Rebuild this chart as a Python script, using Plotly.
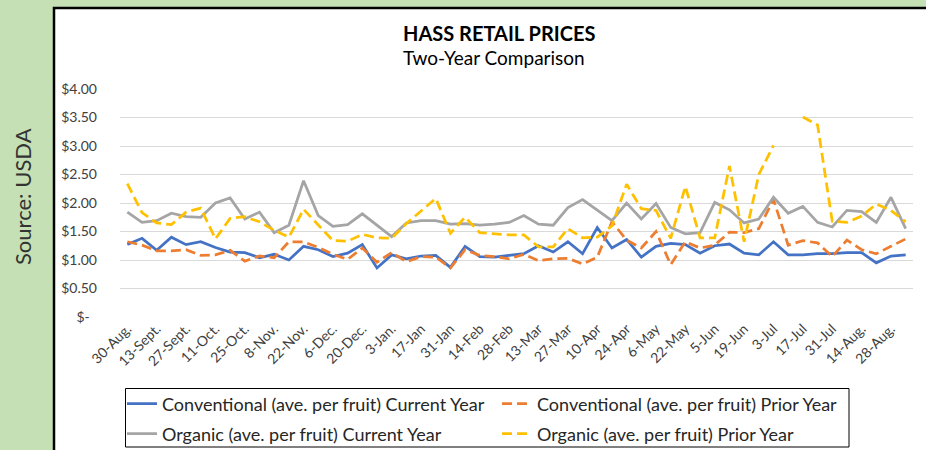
import plotly.graph_objects as go

weeks = ["30-Aug.", "6-Sept.", "13-Sept.", "20-Sept.", "27-Sept.", "4-Oct.", "11-Oct.", "18-Oct.",
         "25-Oct.", "1-Nov.", "8-Nov.", "15-Nov.", "22-Nov.", "29-Nov.", "6-Dec.", "13-Dec.",
         "20-Dec.", "27-Dec.", "3-Jan.", "10-Jan", "17-Jan", "24-Jan", "31-Jan", "7-Feb",
         "14-Feb", "21-Feb", "28-Feb", "6-Mar", "13-Mar", "20-Mar", "27-Mar", "3-Apr",
         "10-Apr", "17-Apr", "24-Apr", "1-May", "6-May", "15-May", "22-May", "29-May",
         "5-Jun", "12-Jun", "19-Jun", "26-Jun", "3-Jul", "10-Jul", "17-Jul", "24-Jul",
         "31-Jul", "7-Aug.", "14-Aug.", "21-Aug.", "28-Aug.", "4-Sept. "]

conv_current = [1.27, 1.38, 1.17, 1.40, 1.27, 1.32, 1.22, 1.14, 1.13, 1.04, 1.10, 1.00, 1.24, 1.18,
                1.06, 1.12, 1.27, 0.86, 1.09, 1.02, 1.07, 1.08, 0.87, 1.24, 1.06, 1.05, 1.08, 1.11,
                1.25, 1.14, 1.32, 1.11, 1.57, 1.21, 1.36, 1.05, 1.24, 1.29, 1.27, 1.12, 1.25, 1.28,
                1.12, 1.09, 1.32, 1.09, 1.09, 1.11, 1.11, 1.13, 1.13, 0.95, 1.07, 1.09]
conv_prior = [1.32, 1.26, 1.16, 1.16, 1.18, 1.08, 1.09, 1.17, 0.98, 1.07, 1.04, 1.32, 1.32, 1.22,
              1.10, 1.01, 1.21, 0.96, 1.13, 0.97, 1.06, 1.05, 0.86, 1.18, 1.08, 1.06, 1.02, 1.10,
              0.99, 1.02, 1.03, 0.93, 1.05, 1.67, 1.35, 1.21, 1.50, 0.92, 1.32, 1.21, 1.26, 1.49,
              1.48, 1.55, 2.06, 1.26, 1.34, 1.30, 1.06, 1.35, 1.18, 1.11, 1.24, 1.37]
org_current = [1.84, 1.66, 1.69, 1.82, 1.76, 1.75, 2.00, 2.09, 1.72, 1.84, 1.48, 1.61, 2.39, 1.78,
               1.59, 1.62, 1.81, 1.61, 1.41, 1.65, 1.69, 1.69, 1.63, 1.64, 1.61, 1.63, 1.66, 1.78,
               1.63, 1.61, 1.92, 2.06, 1.87, 1.69, 2.00, 1.72, 1.99, 1.57, 1.46, 1.48, 2.01, 1.88,
               1.65, 1.72, 2.10, 1.82, 1.94, 1.66, 1.58, 1.87, 1.85, 1.66, 2.10, 1.55]
org_prior = [2.34, 1.83, 1.65, 1.62, 1.84, 1.91, 1.37, 1.73, 1.76, 1.67, 1.52, 1.40, 1.89, 1.61,
             1.34, 1.33, 1.45, 1.39, 1.38, 1.64, 1.86, 2.08, 1.47, 1.75, 1.48, 1.46, 1.44, 1.44,
             1.23, 1.23, 1.55, 1.39, 1.40, 1.60, 2.33, 1.90, 1.87, 1.38, 2.29, 1.39, 1.39, 2.65,
             1.32, 2.50, 3.01, None, 3.51, 3.37, 1.68, 1.66, 1.77, 1.98, 1.87, 1.67]

series_names = ["Conventional (ave. per fruit) Current Year",
                "Conventional (ave. per fruit) Prior Year",
                "Organic (ave. per fruit) Current Year",
                "Organic (ave. per fruit) Prior Year"]

y_tick_values = [0, 0.5, 1.0, 1.5, 2.0, 2.5, 3.0, 3.5, 4.0]
y_tick_text = ["$-\u00a0\u00a0", "$0.50", "$1.00", "$1.50", "$2.00", "$2.50", "$3.00", "$3.50", "$4.00"]
x_tick_labels = weeks[::2]

# ---- layout geometry (pixels) ----
W, H = 926, 450
L, R, T, B = 120, 13, 89, 133
PW, PH = W - L - R, H - T - B


def px(x):
    return (x - L) / PW


def py(y):
    return (H - B - y) / PH


FONT = "Lato, Carlito, Calibri, sans-serif"

fig = go.Figure()
styles = [
    dict(color="#4472C4", dash="solid", legend="legend"),
    dict(color="#ED7D31", dash="10px,5px", legend="legend"),
    dict(color="#A5A5A5", dash="solid", legend="legend2"),
    dict(color="#FFC000", dash="10px,5px", legend="legend2"),
]
for name, vals, st in zip(series_names, [conv_current, conv_prior, org_current, org_prior], styles):
    fig.add_trace(go.Scatter(
        x=weeks, y=vals, name=name, mode="lines", connectgaps=False,
        line=dict(color=st["color"], width=2.75, dash=st["dash"]),
        legend=st["legend"], hoverinfo="x+y+name"))

legend_common = dict(orientation="h", xanchor="left", yanchor="middle",
                     bgcolor="rgba(0,0,0,0)", borderwidth=0,
                     entrywidth=330, entrywidthmode="pixels",
                     font=dict(family=FONT, size=18, color="#262626"),
                     itemwidth=30)

fig.update_layout(
    width=W, height=H,
    margin=dict(l=L, r=R, t=T, b=B, pad=0, autoexpand=False),
    paper_bgcolor="#C5E0B4",
    plot_bgcolor="rgba(0,0,0,0)",
    font=dict(family=FONT, color="#404040"),
    showlegend=True,
    legend=dict(x=px(122), y=py(404), **legend_common),
    legend2=dict(x=px(122), y=py(434), **legend_common),
    xaxis=dict(type="category", range=[-0.5, len(weeks) - 0.5],
               tickmode="array", tickvals=x_tick_labels, ticktext=x_tick_labels,
               tickangle=-45, showgrid=False, zeroline=False, showline=False,
               ticks="", tickfont=dict(family=FONT, size=14, color="#404040"),
               fixedrange=True),
    yaxis=dict(range=[0, 4], tickmode="array", tickvals=y_tick_values, ticktext=y_tick_text,
               showgrid=True, gridcolor="#D9D9D9", gridwidth=1, zeroline=False,
               showline=False, ticks="", ticklabelstandoff=22,
               tickfont=dict(family=FONT, size=14, color="#404040"), fixedrange=True),
    shapes=[
        dict(type="rect", xref="paper", yref="paper", layer="below",
             x0=px(54), x1=px(960), y0=py(480), y1=py(8),
             fillcolor="white", line=dict(color="black", width=2.5)),
        dict(type="rect", xref="paper", yref="paper", layer="above",
             x0=px(125.5), x1=px(849), y0=py(447), y1=py(388.5),
             fillcolor="rgba(0,0,0,0)", line=dict(color="black", width=1)),
    ],
    annotations=[
        dict(text="<b>HASS RETAIL PRICES</b>", xref="paper", yref="paper",
             x=px(499), y=py(33), xanchor="center", yanchor="middle", showarrow=False,
             font=dict(family=FONT, size=20, color="#000000")),
        dict(text="Two-Year Comparison", xref="paper", yref="paper",
             x=px(494), y=py(58), xanchor="center", yanchor="middle", showarrow=False,
             font=dict(family=FONT, size=19, color="#000000")),
        dict(text="Source: USDA", xref="paper", yref="paper", textangle=-90,
             x=px(22), y=py(197), xanchor="center", yanchor="middle", showarrow=False,
             font=dict(family=FONT, size=22, color="#333333")),
    ],
)

fig.write_html("out.html", config={"displayModeBar": False},
               post_script="document.body.style.margin='0';")
